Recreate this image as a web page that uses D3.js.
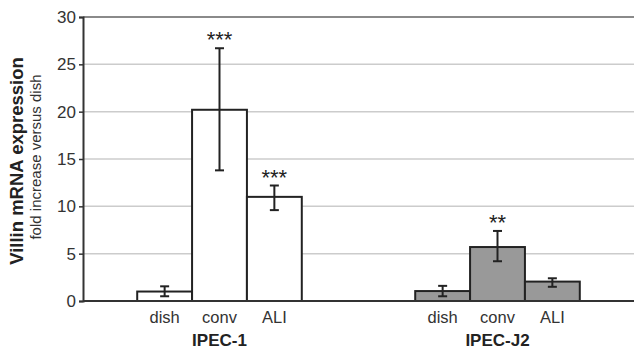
<!DOCTYPE html>
<html><head><meta charset="utf-8">
<script src="https://cdn.jsdelivr.net/npm/d3@7"></script>
<style>body{margin:0;background:#fff;}svg{display:block;font-family:"Liberation Sans",Arial,sans-serif;}</style>
</head><body><svg id="c" width="634" height="353"></svg>
<script>
const groups = ["IPEC-1", "IPEC-J2"];
const conditions = ["dish", "conv", "ALI"];
const means = { "IPEC-1": [1.0, 20.2, 11.0], "IPEC-J2": [1.05, 5.7, 2.05] };
const errLow = { "IPEC-1": [0.5, 13.8, 9.6], "IPEC-J2": [0.5, 4.2, 1.5] };
const errHigh = { "IPEC-1": [1.55, 26.7, 12.2], "IPEC-J2": [1.6, 7.4, 2.4] };
const stars = { "IPEC-1": ["", "***", "***"], "IPEC-J2": ["", "**", ""] };
const fills = { "IPEC-1": "#ffffff", "IPEC-J2": "#999999" };
const yTicks = [0, 5, 10, 15, 20, 25, 30];

const svg = d3.select("#c");
const L = 83, R = 634, T = 17, B = 301;
const y = d3.scaleLinear().domain([0, 30]).range([B, T]);
const x0 = d3.scaleBand().domain(groups).range([L, R]).paddingInner(0.408).paddingOuter(0.195);
const x1 = d3.scaleBand().domain(conditions).range([0, x0.bandwidth()]);

// grid
svg.append("g").selectAll("line").data(yTicks.filter(t => t > 0)).join("line")
  .attr("x1", L).attr("x2", R).attr("y1", d => y(d)).attr("y2", d => y(d))
  .attr("stroke", d => d === 30 ? "#8a8a8a" : "#cccccc")
  .attr("stroke-width", d => d === 30 ? 2 : 1.5);

// y axis
const ya = svg.append("g").attr("transform", `translate(${L},0)`)
  .call(d3.axisLeft(y).tickValues(yTicks).tickSize(4).tickPadding(3));
ya.select(".domain").attr("stroke", "#333").attr("stroke-width", 2);
ya.selectAll(".tick line").attr("stroke", "#333").attr("stroke-width", 1.5);
ya.selectAll(".tick text").attr("font-size", 17).attr("fill", "#333").attr("font-family", "Liberation Sans, Arial, sans-serif");

// bars
const rows = groups.flatMap(g => conditions.map((c, i) => ({ g, c, v: means[g][i], lo: errLow[g][i], hi: errHigh[g][i], s: stars[g][i] })));
const bx = d => x0(d.g) + x1(d.c);
svg.append("g").selectAll("rect").data(rows).join("rect")
  .attr("x", bx).attr("width", x1.bandwidth())
  .attr("y", d => y(d.v)).attr("height", d => y(0) - y(d.v))
  .attr("fill", d => fills[d.g]).attr("stroke", "#222").attr("stroke-width", 2);

// x baseline
svg.append("line").attr("x1", L).attr("x2", R).attr("y1", y(0)).attr("y2", y(0))
  .attr("stroke", "#333").attr("stroke-width", 2);

// error bars
const eb = svg.append("g").attr("stroke", "#222").attr("stroke-width", 2);
rows.forEach(d => {
  const cx = bx(d) + x1.bandwidth() / 2;
  eb.append("line").attr("x1", cx).attr("x2", cx).attr("y1", y(d.lo)).attr("y2", y(d.hi));
  [d.lo, d.hi].forEach(v => eb.append("line").attr("x1", cx - 4.5).attr("x2", cx + 4.5).attr("y1", y(v)).attr("y2", y(v)));
});

// stars
svg.append("g").selectAll("text").data(rows.filter(d => d.s)).join("text")
  .attr("x", d => bx(d) + x1.bandwidth() / 2).attr("y", d => y(d.hi) - 1)
  .attr("text-anchor", "middle").attr("font-size", 22).attr("fill", "#222")
  .text(d => d.s);

// category labels
svg.append("g").selectAll("text").data(rows).join("text")
  .attr("x", d => bx(d) + x1.bandwidth() / 2).attr("y", 323)
  .attr("text-anchor", "middle").attr("font-size", 16.5).attr("fill", "#333").text(d => d.c);

// group labels
svg.append("g").selectAll("text").data(groups).join("text")
  .attr("x", g => x0(g) + x0.bandwidth() / 2).attr("y", 346)
  .attr("text-anchor", "middle").attr("font-size", 17).attr("font-weight", "bold").attr("fill", "#222").text(g => g);

// y labels
svg.append("text").attr("transform", "translate(23,161) rotate(-90)")
  .attr("text-anchor", "middle").attr("font-size", 18.5).attr("font-weight", "bold").attr("fill", "#222")
  .text("Villin mRNA expression");
svg.append("text").attr("transform", "translate(41,157) rotate(-90)")
  .attr("text-anchor", "middle").attr("font-size", 15).attr("fill", "#333")
  .text("fold increase versus dish");
</script></body></html>
